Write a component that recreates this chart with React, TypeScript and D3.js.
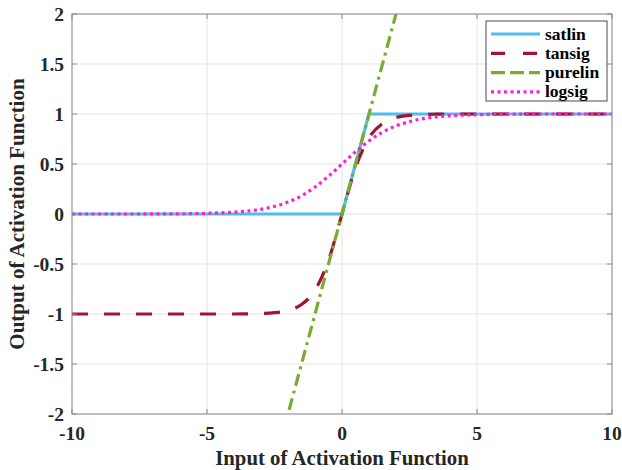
import React from 'react';
import * as d3 from 'd3';

// sample inputs
const xs = [-10, -8, -6, -5, -4, -3.5, -3, -2.5, -2, -1.5, -1, -0.5, 0, 0.5, 1, 1.5, 2, 2.5, 3, 3.5, 4, 5, 6, 8, 10];
const tansigY = [-1, -1, -1, -1, -1, -0.998, -0.995, -0.987, -0.964, -0.905, -0.762, -0.462, 0, 0.462, 0.762, 0.905, 0.964, 0.987, 0.995, 0.998, 1, 1, 1, 1, 1];
const logsigY = [0, 0, 0.002, 0.007, 0.018, 0.029, 0.047, 0.076, 0.119, 0.182, 0.269, 0.378, 0.5, 0.622, 0.731, 0.818, 0.881, 0.924, 0.953, 0.971, 0.982, 0.993, 0.998, 1, 1];
const satlinX = [-10, 0, 1, 10];
const satlinY = [0, 0, 1, 1];
const purelinX = [-2.2, 2.2];
const purelinY = [-2.2, 2.2];

const xTicks = [-10, -5, 0, 5, 10];
const yTicks = [-2, -1.5, -1, -0.5, 0, 0.5, 1, 1.5, 2];
const seriesNames = ['satlin', 'tansig', 'purelin', 'logsig'];
const colors = ['#4DBEEE', '#A2142F', '#77AC30', '#FF22CC'];
const dashes = ['none', '16 16', '12 5 3 5', '3 3.5'];
const legendDashes = ['none', '14 18', '14 5', '3 3.5'];

export default function App() {
  const W = 622, H = 470;
  const margin = { top: 14, right: 10, bottom: 56, left: 72 };
  const x = d3.scaleLinear().domain([-10, 10]).range([margin.left, W - margin.right]);
  const y = d3.scaleLinear().domain([-2, 2]).range([H - margin.bottom, margin.top]);

  const line = d3.line<[number, number]>()
    .x(d => x(d[0]))
    .y(d => y(d[1]));
  const smooth = d3.line<[number, number]>()
    .x(d => x(d[0]))
    .y(d => y(d[1]))
    .curve(d3.curveMonotoneX);

  const paths = [
    line(satlinX.map((v, i) => [v, satlinY[i]])),
    smooth(xs.map((v, i) => [v, tansigY[i]])),
    line(purelinX.map((v, i) => [v, purelinY[i]])),
    smooth(xs.map((v, i) => [v, logsigY[i]])),
  ];

  const x0 = margin.left, x1 = W - margin.right, y0 = margin.top, y1 = H - margin.bottom;
  const font = '"Liberation Serif", "Times New Roman", serif';
  const fmt = (d: number) => String(d);

  return (
    <svg width={W} height={H} style={{ position: 'absolute', left: 0, top: 0 }} fontFamily={font}>
      <defs>
        <clipPath id="plot">
          <rect x={x0} y={y0} width={x1 - x0} height={y1 - y0} />
        </clipPath>
      </defs>
      <rect width={W} height={H} fill="#fff" />
      {/* grid */}
      {xTicks.map(t => (
        <line key={'gx' + t} x1={x(t)} x2={x(t)} y1={y0} y2={y1} stroke="#e3e3e3" strokeWidth={1} />
      ))}
      {yTicks.map(t => (
        <line key={'gy' + t} x1={x0} x2={x1} y1={y(t)} y2={y(t)} stroke="#e3e3e3" strokeWidth={1} />
      ))}
      {/* series */}
      <g clipPath="url(#plot)">
        {paths.map((p, i) => (
          <path key={seriesNames[i]} d={p || ''} fill="none" stroke={colors[i]} strokeWidth={3.2}
            strokeDasharray={dashes[i]} />
        ))}
      </g>
      {/* box and ticks */}
      <rect x={x0} y={y0} width={x1 - x0} height={y1 - y0} fill="none" stroke="#8c8c8c" strokeWidth={1} />
      {xTicks.map(t => (
        <g key={'tx' + t}>
          <line x1={x(t)} x2={x(t)} y1={y1} y2={y1 - 5} stroke="#8c8c8c" />
          <line x1={x(t)} x2={x(t)} y1={y0} y2={y0 + 5} stroke="#8c8c8c" />
          <text x={x(t)} y={y1 + 26} textAnchor="middle" fontSize={19.5} fontWeight="bold" fill="#262626">{fmt(t)}</text>
        </g>
      ))}
      {yTicks.map(t => (
        <g key={'ty' + t}>
          <line x1={x0} x2={x0 + 5} y1={y(t)} y2={y(t)} stroke="#8c8c8c" />
          <line x1={x1} x2={x1 - 5} y1={y(t)} y2={y(t)} stroke="#8c8c8c" />
          <text x={x0 - 8} y={y(t) + 7} textAnchor="end" fontSize={19.5} fontWeight="bold" fill="#262626">{fmt(t)}</text>
        </g>
      ))}
      {/* axis titles */}
      <text x={x(0)} y={H - 5} textAnchor="middle" fontSize={20.8} fontWeight="bold" fill="#262626">Input of Activation Function</text>
      <text transform={`translate(24,${y(0)}) rotate(-90)`} textAnchor="middle" fontSize={21} fontWeight="bold" fill="#262626">Output of Activation Function</text>
      {/* legend */}
      <g>
        <rect x={486} y={21} width={121} height={80} fill="#fff" stroke="#4d4d4d" strokeWidth={1} />
        {seriesNames.map((n, i) => (
          <g key={'lg' + n}>
            <line x1={491} x2={540} y1={34 + i * 19.3} y2={34 + i * 19.3} stroke={colors[i]} strokeWidth={3.2}
              strokeDasharray={legendDashes[i]} />
            <text x={545} y={34 + i * 19.3 + 5.5} fontSize={17.5} fontWeight="bold" fill="#000">{n}</text>
          </g>
        ))}
      </g>
    </svg>
  );
}
